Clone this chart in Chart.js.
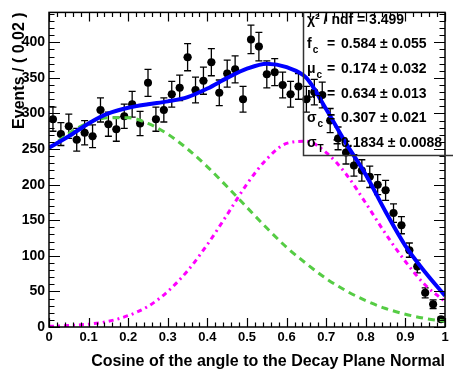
<!DOCTYPE html>
<html><head><meta charset="utf-8">
<script src="https://cdn.jsdelivr.net/npm/chart.js@4/dist/chart.umd.min.js"></script>
<style>html,body{margin:0;padding:0;background:#fff}#wrap{width:453px;height:371px;position:relative}</style>
</head><body><div id="wrap"><canvas id="c" width="453" height="371"></canvas></div>
<script>
// ---- data ----
const binCenters = [0.01,0.03,0.05,0.07,0.09,0.11,0.13,0.15,0.17,0.19,0.21,0.23,0.25,0.27,0.29,0.31,0.33,0.35,0.37,0.39,0.41,0.43,0.45,0.47,0.49,0.51,0.53,0.55,0.57,0.59,0.61,0.63,0.65,0.67,0.69,0.71,0.73,0.75,0.77,0.79,0.81,0.83,0.85,0.87,0.89,0.91,0.93,0.95,0.97,0.99];
const eventCounts = [292,271,282,263,273,268,305,285,278,296,313,286,343,292,305,327,336,379,333,346,372,329,356,362,320,404,394,355,358,340,327,338,320,330,326,290,265,245,227,220,211,200,192,160,143,108,85,48,32,11];
const eventErrors = [17,16,17,16,17,16,17,17,17,17,18,17,19,17,17,18,18,19,18,19,19,18,19,19,18,20,20,19,19,18,18,18,18,18,18,17,16,16,15,15,15,14,14,13,12,10,9,7,6,3];
const binHalfWidth = 0.01;
const curveX = [0,0.05,0.1,0.15,0.2,0.25,0.3,0.35,0.4,0.45,0.5,0.55,0.6,0.65,0.7,0.75,0.8,0.85,0.9,0.95,1.0];
const totalFit = [252,268,286,300,308,313,317,323,335,350,363,370,365,350,306,258,214,162,114,77,44];
const combFit = [251,272,287,294,294,286,271,250,225,197,168,139,112,89,68,51,37,26,18,12,8];
const signalFit = [1,2,4,8,16,29,50,79,116,158,201,236,258,261,245,215,174,131,92,59,36];
const xTickValues = [0,0.1,0.2,0.3,0.4,0.5,0.6,0.7,0.8,0.9,1];
const xTickLabels = ['0','0.1','0.2','0.3','0.4','0.5','0.6','0.7','0.8','0.9','1'];
const yTickValues = [0,50,100,150,200,250,300,350,400];
const yTickLabels = ['0','50','100','150','200','250','300','350','400'];
const xTitle = 'Cosine of the angle to the Decay Plane Normal';
const yTitle = 'Events / ( 0.02 )';
const statsTitle = 'χ² / ndf = 3.499';
const statNames = ['f','μ','μ','σ','σ'];
const statSubs = ['c','c','T','c','T'];
const statValues = ['0.584 ± 0.055','0.174 ± 0.032','0.634 ± 0.013','0.307 ± 0.021','0.1834 ± 0.0088'];

const FONT = '"Liberation Sans", Arial, Helvetica, sans-serif';
const pts = binCenters.map((x,i)=>({x, y: eventCounts[i]}));
const curve = arr => curveX.map((x,i)=>({x, y: arr[i]}));

const rootPlugin = {
  id: 'rootStyle',
  beforeDatasetDraw(chart, args) {
    if (args.index !== 3) return;
    const ctx = chart.ctx, xs = chart.scales.x, ys = chart.scales.y;
    ctx.save();
    ctx.strokeStyle = '#000'; ctx.lineWidth = 1.3;
    binCenters.forEach((c,i)=>{
      const px = xs.getPixelForValue(c);
      const yl = ys.getPixelForValue(eventCounts[i]-eventErrors[i]);
      const yh = ys.getPixelForValue(eventCounts[i]+eventErrors[i]);
      const py = ys.getPixelForValue(eventCounts[i]);
      const xl = xs.getPixelForValue(c-binHalfWidth), xh = xs.getPixelForValue(c+binHalfWidth);
      ctx.beginPath();
      ctx.moveTo(px, yl); ctx.lineTo(px, yh);
      ctx.moveTo(px-3.5, yl); ctx.lineTo(px+3.5, yl);
      ctx.moveTo(px-3.5, yh); ctx.lineTo(px+3.5, yh);
      ctx.moveTo(xl, py); ctx.lineTo(xh, py);
      ctx.stroke();
    });
    ctx.restore();
  },
  afterDraw(chart) {
    const ctx = chart.ctx, xs = chart.scales.x, ys = chart.scales.y;
    const a = chart.chartArea;
    ctx.save();
    ctx.strokeStyle = '#000';
    ctx.lineWidth = 1.5;
    ctx.strokeRect(a.left, a.top, a.right-a.left, a.bottom-a.top);
    ctx.lineWidth = 1.2;
    ctx.beginPath();
    // x ticks: major 0.1, minor 0.02
    for (let k = 0; k <= 50; k++) {
      const v = k/50;
      const px = Math.round(xs.getPixelForValue(v))+0.5;
      const len = (k % 5 === 0) ? 9 : 4.5;
      ctx.moveTo(px, a.bottom); ctx.lineTo(px, a.bottom-len);
      ctx.moveTo(px, a.top); ctx.lineTo(px, a.top+len);
    }
    for (let k = 0; k <= 44; k++) {
      const v = k*10;
      const py = Math.round(ys.getPixelForValue(v))+0.5;
      const len = (k % 5 === 0) ? 11 : 5.5;
      ctx.moveTo(a.left, py); ctx.lineTo(a.left+len, py);
      ctx.moveTo(a.right, py); ctx.lineTo(a.right-len, py);
    }
    ctx.stroke();
    // stats box (transparent)
    ctx.lineWidth = 1.5;
    ctx.strokeStyle = '#333';
    ctx.beginPath();
    ctx.moveTo(303.5, a.top); ctx.lineTo(303.5, 155.5); ctx.lineTo(453, 155.5);
    ctx.stroke();
    ctx.fillStyle = '#000';
    ctx.textBaseline = 'middle';
    ctx.textAlign = 'left';
    ctx.font = 'bold 14px ' + FONT;
    const y0 = 20, dy = 24.6;
    ctx.fillText(statsTitle, 307, y0);
    statNames.forEach((n,i)=>{
      const y = y0 + dy*(i+1);
      ctx.font = 'bold 14px ' + FONT;
      ctx.fillText(n, 307, y);
      const w = ctx.measureText(n).width;
      ctx.font = 'bold 10px ' + FONT;
      ctx.fillText(statSubs[i], 307 + w + 1, y + 6);
      ctx.font = 'bold 14px ' + FONT;
      ctx.fillText('=', i === 4 ? 333 : 327, y);
      ctx.fillText(statValues[i], 341, y);
    });
    ctx.restore();
  }
};

new Chart(document.getElementById('c'), {
  type: 'scatter',
  data: {
    datasets: [
      { data: curve(totalFit), showLine: true, borderColor: '#0000ff', borderWidth: 4, pointRadius: 0, cubicInterpolationMode: 'monotone', fill: false },
      { data: curve(signalFit), showLine: true, borderColor: '#ff00ff', borderWidth: 3, borderDash: [5,4,2,4], pointRadius: 0, cubicInterpolationMode: 'monotone', fill: false },
      { data: curve(combFit), showLine: true, borderColor: '#55cc44', borderWidth: 3, borderDash: [7,5], pointRadius: 0, cubicInterpolationMode: 'monotone', fill: false },
      { data: pts, showLine: false, pointRadius: 4, pointBackgroundColor: '#000', pointBorderColor: '#000', pointBorderWidth: 0 }
    ]
  },
  options: {
    responsive: false, animation: false, devicePixelRatio: 1,
    layout: { padding: { top: 12, right: 8, left: 0, bottom: 0 } },
    plugins: { legend: { display: false }, tooltip: { enabled: false } },
    scales: {
      x: {
        type: 'linear', min: 0, max: 1,
        afterBuildTicks: s => { s.ticks = xTickValues.map(v => ({ value: v })); },
        afterFit: s => { s.height = 44; },
        ticks: { callback: (v, i) => xTickLabels[i], autoSkip: false, maxRotation: 0, padding: 3, color: '#000', font: { family: FONT, size: 13, weight: 'bold' } },
        grid: { display: false, drawTicks: false }, border: { display: false },
        title: { display: true, text: xTitle, align: 'end', color: '#000', padding: 0, font: { family: FONT, size: 16, weight: 'bold' } }
      },
      y: {
        type: 'linear', min: 0, max: 442,
        afterBuildTicks: s => { s.ticks = yTickValues.map(v => ({ value: v })); },
        afterFit: s => { s.width = 49; },
        ticks: { callback: (v, i) => yTickLabels[i], autoSkip: false, padding: 4, color: '#000', font: { family: FONT, size: 14, weight: 'bold' } },
        grid: { display: false, drawTicks: false }, border: { display: false },
        title: { display: true, text: yTitle, align: 'end', color: '#000', padding: { top: 10, bottom: 0 }, font: { family: FONT, size: 16, weight: 'bold' } }
      }
    }
  },
  plugins: [rootPlugin]
});
</script>
</body></html>
